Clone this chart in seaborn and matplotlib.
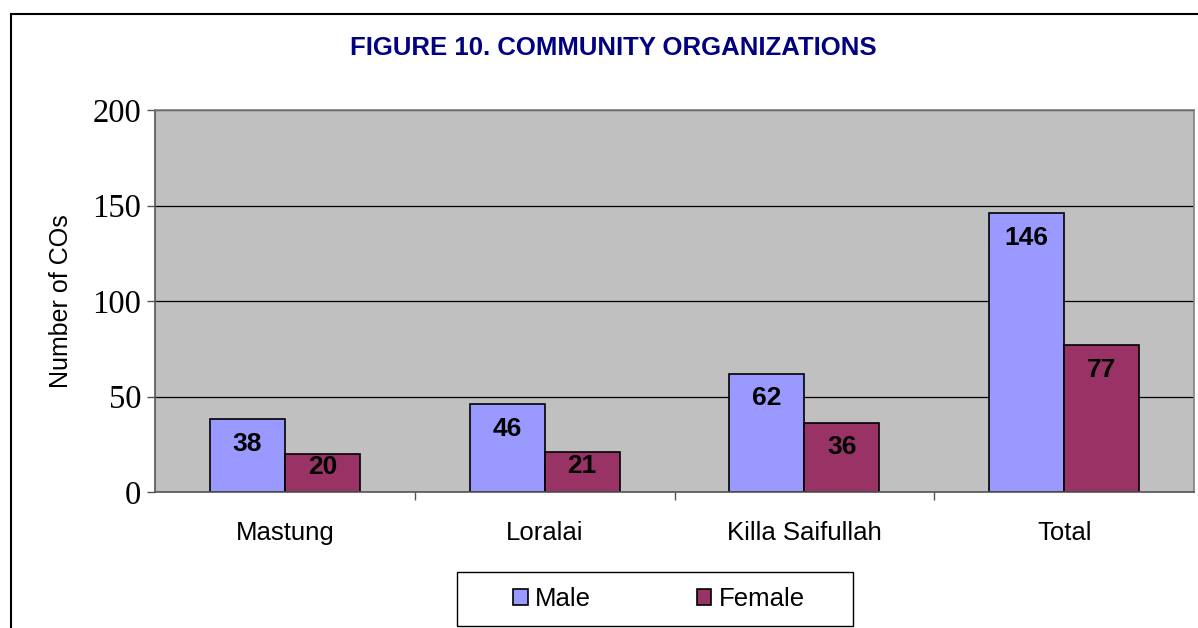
import numpy as np
import pandas as pd
import matplotlib.pyplot as plt
import seaborn as sns
from matplotlib.patches import Rectangle

sns.set_theme(style="white")
plt.rcParams["font.family"] = ["Liberation Sans", "DejaVu Sans"]
plt.rcParams.update({"text.color": "black", "axes.labelcolor": "black",
                     "xtick.color": "black", "ytick.color": "black"})

# data
districts = ["Mastung", "Loralai", "Killa Saifullah", "Total"]
male = [38, 46, 62, 146]
female = [20, 21, 36, 77]
groups = ["Male", "Female"]
colors = ["#9999FF", "#993366"]

df = pd.DataFrame({
    "district": districts * 2,
    "sex": ["Male"] * len(districts) + ["Female"] * len(districts),
    "count": male + female,
})

fig = plt.figure(figsize=(11.98, 6.28), dpi=100)
ax = fig.add_axes([155 / 1198, 1 - 492 / 628, (1194 - 155) / 1198, (492 - 110) / 628])
ax.set_facecolor("#C0C0C0")

sns.barplot(data=df, x="district", y="count", hue="sex", hue_order=groups,
            order=districts, palette=colors, width=0.577, edgecolor="black",
            linewidth=1.2, saturation=1, ax=ax, legend=True)

ax.set_ylim(0, 200)
ax.set_xlim(-0.5, len(districts) - 0.5)
ax.set_yticks([0, 50, 100, 150, 200])
ax.yaxis.grid(True, color="black", linewidth=0.9)
ax.set_axisbelow(True)
for lbl in ax.get_yticklabels():
    lbl.set_family(["Liberation Serif", "DejaVu Serif"])
    lbl.set_fontsize(23.5)
ax.tick_params(axis="y", length=6, width=1, color="#555555", direction="out", left=True, pad=4)

# x ticks at category boundaries, labels centred
ax.set_xticks(np.arange(0.5, len(districts) - 0.5), minor=False)
ax.set_xticklabels([])
ax.set_xticks(np.arange(len(districts)), minor=True)
ax.set_xticklabels(districts, minor=True, fontsize=18.5)
ax.tick_params(axis="x", which="major", length=6, width=1, color="#555555", direction="out", bottom=True)
ax.tick_params(axis="x", which="minor", length=0, pad=21)
ax.set_xlabel("")
ax.set_ylabel("Number of COs", fontsize=18, labelpad=14)

for s in ax.spines.values():
    s.set_color("#808080")
    s.set_linewidth(1.2)
ax.spines["left"].set_color("#555555")
ax.spines["bottom"].set_color("#555555")

# bar value labels
for cont in ax.containers:
    for bar in cont:
        h = bar.get_height()
        y = max(h - 13, 0.65 * h)
        ax.text(bar.get_x() + bar.get_width() / 2, y, f"{h:.0f}", ha="center",
                va="center", fontsize=19, fontweight="bold", color="black")

# legend: entries without frame, box drawn separately
ax.legend_.remove()
handles = [Rectangle((0, 0), 1, 1, facecolor=c, edgecolor="black", linewidth=1.2) for c in colors]
leg = fig.legend(handles, groups, loc="center", bbox_to_anchor=(659 / 1198, 1 - 599 / 628),
                 ncol=2, frameon=False, fontsize=18.5, handlelength=0.55,
                 handleheight=0.55, handletextpad=0.3, columnspacing=4.1,
                 borderpad=0.3, borderaxespad=0)
fig.add_artist(Rectangle((457 / 1198, 1 - 626 / 628), 396 / 1198, 54 / 628,
                         transform=fig.transFigure, fill=False, edgecolor="black", linewidth=1.0))

fig.text(613 / 1198, 1 - 48 / 628, "FIGURE 10. COMMUNITY ORGANIZATIONS", ha="center",
         va="center", fontsize=18.5, fontweight="bold", color="#000080")

# outer chart frame (cut off at right and bottom)
fig.add_artist(Rectangle((11 / 1198, -0.05), 1.1, 1 - 14 / 628 + 0.05, transform=fig.transFigure,
                         fill=False, edgecolor="black", linewidth=1.5, clip_on=False))

fig.savefig("out.png", dpi=100)
